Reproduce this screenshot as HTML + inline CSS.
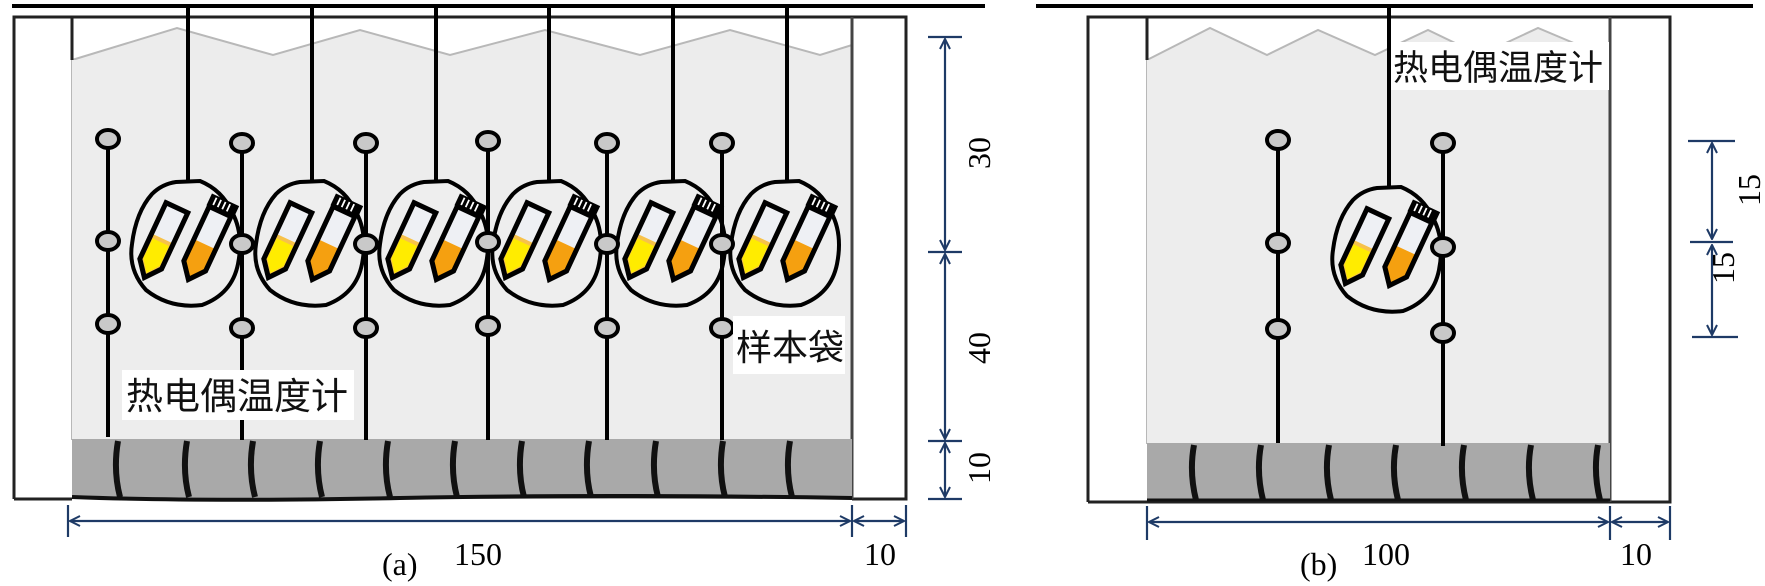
<!DOCTYPE html>
<html><head><meta charset="utf-8"><style>
html,body{margin:0;padding:0;background:#fff;}
svg{display:block;}
text{font-family:"Liberation Serif","Noto Serif CJK SC",serif;}
.cn{font-family:"Liberation Sans","Noto Sans CJK SC",sans-serif;fill:#111;}
</style></head><body>
<svg width="1765" height="586" viewBox="0 0 1765 586" xmlns="http://www.w3.org/2000/svg">
<defs>
<g id="tube1">
  <path d="M-12,-40 L12,-40 L12,22 L0,37 L-12,22 Z" fill="#eef0f4" stroke="none"/>
  <path d="M-12,-6 L12,-6 L12,22 L0,37 L-12,22 Z" fill="#f7c24a"/>
  <path d="M-9,-2 L9,-2 L9,20 L0,32 L-9,20 Z" fill="#ffec00"/>
  <path d="M-12,-40 L12,-40 L12,22 L0,37 L-12,22 Z" fill="none" stroke="#000" stroke-width="5"/>
</g>
<g id="tube2">
  <path d="M-12,-38 L12,-38 L12,22 L0,37 L-12,22 Z" fill="#eef0f4"/>
  <path d="M-12,-2 L12,-2 L12,22 L0,37 L-12,22 Z" fill="#f5a010"/>
  <path d="M-12,-38 L12,-38 L12,22 L0,37 L-12,22 Z" fill="none" stroke="#000" stroke-width="5"/>
  <rect x="-15" y="-51" width="30" height="13" fill="#000"/>
  <path d="M-9,-49 V-41 M-4,-49 V-41 M1,-49 V-41 M6,-49 V-41" stroke="#fff" stroke-width="1.8"/>
</g>
<g id="bag">
  <path d="M-12,0 L12,-1 Q34,8 44,30 Q56,52 50,82 Q44,112 14,123 Q-18,127 -42,108 Q-60,88 -56,62 Q-52,30 -36,12 Q-26,2 -12,0 Z" fill="#eeeeee" stroke="#000" stroke-width="4"/>
  <use href="#tube1" transform="translate(-28,62) rotate(25)"/>
  <use href="#tube2" transform="translate(16,64) rotate(25)"/>
</g>
<marker id="ar" viewBox="0 0 12 12" refX="11" refY="6" markerWidth="12" markerHeight="12" markerUnits="userSpaceOnUse" orient="auto-start-reverse">
  <path d="M1,1 L11,6 L1,11" fill="none" stroke="#1e3a66" stroke-width="2"/>
</marker>
</defs>

<!-- ============ PANEL A ============ -->
<line x1="12" y1="6" x2="985" y2="6" stroke="#000" stroke-width="4"/>
<path d="M72,60 L177,28 L273,55 L360,30 L450,55 L545,30 L640,55 L730,30 L820,55 L852,45 L852,439 L72,439 Z" fill="#ececec" stroke="#b8b8b8" stroke-width="2"/>
<rect x="72" y="60" width="780" height="379" fill="#ededed"/>
<path d="M14,499 L14,17 L906,17 L906,499 L852,499" fill="none" stroke="#222" stroke-width="3"/>
<line x1="72" y1="17" x2="72" y2="60" stroke="#222" stroke-width="3"/>
<line x1="852" y1="17" x2="852" y2="499" stroke="#444" stroke-width="3"/>
<rect x="72" y="439" width="780" height="60" fill="#a9a9a9"/>
<g stroke="#111" stroke-width="6" fill="none">
<path d="M118,441 Q113,470 120,497 M187,441 Q182,470 189,497 M253,441 Q248,470 255,497 M320,441 Q315,470 322,497 M388,441 Q383,470 390,497 M455,441 Q450,470 457,497 M522,441 Q517,470 524,497 M589,441 Q584,470 591,497 M656,441 Q651,470 658,497 M723,441 Q718,470 725,497 M790,441 Q785,470 792,497"/>
<path d="M72,497 Q200,502 400,498 T852,498" stroke-width="4"/>
</g>
<line x1="14" y1="499" x2="72" y2="499" stroke="#222" stroke-width="3"/>
<g stroke="#000" stroke-width="4">
<line x1="188" y1="6" x2="188" y2="182"/><line x1="312" y1="6" x2="312" y2="182"/><line x1="436" y1="6" x2="436" y2="182"/><line x1="549" y1="6" x2="549" y2="182"/><line x1="673" y1="6" x2="673" y2="182"/><line x1="787" y1="6" x2="787" y2="182"/>
</g>
<use href="#bag" transform="translate(188,182)"/>
<use href="#bag" transform="translate(312,182)"/>
<use href="#bag" transform="translate(436,182)"/>
<use href="#bag" transform="translate(549,182)"/>
<use href="#bag" transform="translate(673,182)"/>
<use href="#bag" transform="translate(787,182)"/>
<g stroke="#000" stroke-width="4" fill="#c9c9c9">
<line x1="108" y1="139" x2="108" y2="437"/><ellipse cx="108" cy="139" rx="11" ry="9"/><ellipse cx="108" cy="241" rx="11" ry="9"/><ellipse cx="108" cy="324" rx="11" ry="9"/>
<line x1="242" y1="143" x2="242" y2="440"/><ellipse cx="242" cy="143" rx="11" ry="9"/><ellipse cx="242" cy="244" rx="11" ry="9"/><ellipse cx="242" cy="328" rx="11" ry="9"/>
<line x1="366" y1="143" x2="366" y2="440"/><ellipse cx="366" cy="143" rx="11" ry="9"/><ellipse cx="366" cy="244" rx="11" ry="9"/><ellipse cx="366" cy="328" rx="11" ry="9"/>
<line x1="488" y1="141" x2="488" y2="440"/><ellipse cx="488" cy="141" rx="11" ry="9"/><ellipse cx="488" cy="242" rx="11" ry="9"/><ellipse cx="488" cy="326" rx="11" ry="9"/>
<line x1="607" y1="143" x2="607" y2="440"/><ellipse cx="607" cy="143" rx="11" ry="9"/><ellipse cx="607" cy="244" rx="11" ry="9"/><ellipse cx="607" cy="328" rx="11" ry="9"/>
<line x1="722" y1="143" x2="722" y2="440"/><ellipse cx="722" cy="143" rx="11" ry="9"/><ellipse cx="722" cy="244" rx="11" ry="9"/><ellipse cx="722" cy="328" rx="11" ry="9"/>
</g>
<rect x="122" y="370" width="232" height="50" fill="#fff"/>
<text x="126" y="409" class="cn" font-size="37">热电偶温度计</text>
<rect x="733" y="316" width="112" height="58" fill="#fff"/>
<text x="736" y="360" class="cn" font-size="36">样本袋</text>
<g stroke="#1e3a66" stroke-width="2.2">
<line x1="945" y1="39" x2="945" y2="250" marker-start="url(#ar)" marker-end="url(#ar)"/>
<line x1="945" y1="254" x2="945" y2="439" marker-start="url(#ar)" marker-end="url(#ar)"/>
<line x1="945" y1="443" x2="945" y2="497" marker-start="url(#ar)" marker-end="url(#ar)"/>
<line x1="928" y1="37" x2="962" y2="37"/><line x1="928" y1="252" x2="962" y2="252"/><line x1="928" y1="441" x2="962" y2="441"/><line x1="928" y1="499" x2="962" y2="499"/>
</g>
<g font-size="32" fill="#000">
<text transform="translate(990,153) rotate(-90)" text-anchor="middle">30</text>
<text transform="translate(990,348) rotate(-90)" text-anchor="middle">40</text>
<text transform="translate(990,468) rotate(-90)" text-anchor="middle">10</text>
</g>
<g stroke="#1e3a66" stroke-width="2.2">
<line x1="70" y1="521" x2="850" y2="521" marker-start="url(#ar)" marker-end="url(#ar)"/>
<line x1="854" y1="521" x2="904" y2="521" marker-start="url(#ar)" marker-end="url(#ar)"/>
<line x1="68" y1="505" x2="68" y2="537"/><line x1="852" y1="505" x2="852" y2="537"/><line x1="906" y1="505" x2="906" y2="537"/>
</g>
<g font-size="32" fill="#000">
<text x="382" y="575">(a)</text>
<text x="454" y="565">150</text>
<text x="864" y="565">10</text>
</g>

<!-- ============ PANEL B ============ -->
<line x1="1036" y1="6" x2="1753" y2="6" stroke="#000" stroke-width="4"/>
<path d="M1147,60 L1210,28 L1267,55 L1318,30 L1375,55 L1428,30 L1480,55 L1538,28 L1595,52 L1610,48 L1610,443 L1147,443 Z" fill="#ececec" stroke="#b8b8b8" stroke-width="2"/>
<rect x="1147" y="60" width="463" height="383" fill="#ededed"/>
<path d="M1088,502 L1088,17 L1670,17 L1670,502 L1088,502" fill="none" stroke="#222" stroke-width="3"/>
<line x1="1147" y1="17" x2="1147" y2="60" stroke="#222" stroke-width="3"/>
<line x1="1610" y1="17" x2="1610" y2="502" stroke="#444" stroke-width="3"/>
<rect x="1147" y="443" width="463" height="58" fill="#a9a9a9"/>
<g stroke="#111" stroke-width="6" fill="none">
<path d="M1194,445 Q1189,472 1196,500 M1261,445 Q1256,472 1263,500 M1329,445 Q1324,472 1331,500 M1396,445 Q1391,472 1398,500 M1464,445 Q1459,472 1466,500 M1531,445 Q1526,472 1533,500 M1598,445 Q1593,472 1600,500"/>
<path d="M1147,500 L1610,500" stroke-width="3"/>
</g>
<line x1="1389" y1="6" x2="1389" y2="188" stroke="#000" stroke-width="4"/>
<use href="#bag" transform="translate(1389,188)"/>
<g stroke="#000" stroke-width="4" fill="#c9c9c9">
<line x1="1278" y1="140" x2="1278" y2="443"/><ellipse cx="1278" cy="140" rx="11" ry="9"/><ellipse cx="1278" cy="243" rx="11" ry="9"/><ellipse cx="1278" cy="329" rx="11" ry="9"/>
<line x1="1443" y1="143" x2="1443" y2="446"/><ellipse cx="1443" cy="143" rx="11" ry="9"/><ellipse cx="1443" cy="247" rx="11" ry="9"/><ellipse cx="1443" cy="333" rx="11" ry="9"/>
</g>
<rect x="1391" y="42" width="218" height="48" fill="#fff"/>
<text x="1393" y="80" class="cn" font-size="35">热电偶温度计</text>
<g stroke="#1e3a66" stroke-width="2.2">
<line x1="1712" y1="143" x2="1712" y2="239" marker-start="url(#ar)" marker-end="url(#ar)"/>
<line x1="1712" y1="245" x2="1712" y2="335" marker-start="url(#ar)" marker-end="url(#ar)"/>
<line x1="1688" y1="141" x2="1735" y2="141"/><line x1="1690" y1="242" x2="1733" y2="242"/><line x1="1692" y1="337" x2="1738" y2="337"/>
</g>
<g font-size="32" fill="#000">
<text transform="translate(1760,190) rotate(-90)" text-anchor="middle">15</text>
<text transform="translate(1734,268) rotate(-90)" text-anchor="middle">15</text>
</g>
<g stroke="#1e3a66" stroke-width="2.2">
<line x1="1149" y1="522" x2="1608" y2="522" marker-start="url(#ar)" marker-end="url(#ar)"/>
<line x1="1612" y1="522" x2="1668" y2="522" marker-start="url(#ar)" marker-end="url(#ar)"/>
<line x1="1147" y1="506" x2="1147" y2="540"/><line x1="1610" y1="506" x2="1610" y2="540"/><line x1="1670" y1="506" x2="1670" y2="540"/>
</g>
<g font-size="32" fill="#000">
<text x="1300" y="575">(b)</text>
<text x="1362" y="565">100</text>
<text x="1620" y="565">10</text>
</g>
</svg>
</body></html>
